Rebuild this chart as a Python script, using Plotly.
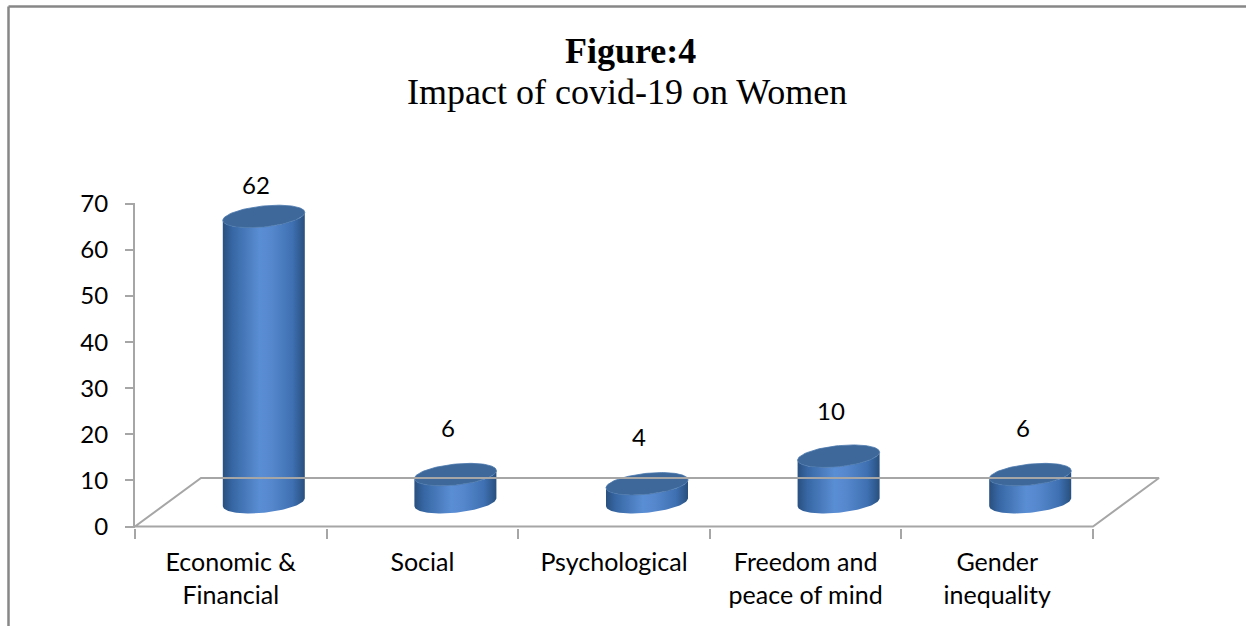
import numpy as np
import plotly.graph_objects as go

# ---------------- data ----------------
categories = ["Economic &<br>Financial", "Social", "Psychological",
              "Freedom and<br>peace of mind", "Gender<br>inequality"]
values = [62, 6, 4, 10, 6]
y_ticks = [0, 10, 20, 30, 40, 50, 60, 70]
title_line1 = "Figure:4"
title_line2 = "Impact of covid-19 on Women"

# ---------------- calibration ----------------
W, H = 1246, 626
ML, MR, MT, MB = 135, 0, 203, 98
PX_X = 191.6      # pixels per category
PX_Y = 4.61       # pixels per value unit
Y0_PX = 526.5     # pixel row of value 0
x_range = [0, (W - ML - MR) / PX_X]
y_range = [-((H - MB) - Y0_PX) / PX_Y, (Y0_PX - MT) / PX_Y]

# 3D depth offsets (in axis units)
DX = 66 / PX_X
DY = 48.5 / PX_Y
RX = 41 / PX_X
RY = 10.5 / PX_Y
K = 4.0 / PX_Y

def px_to_paper_x(px):
    return (px - ML) / (W - ML - MR)

def px_to_paper_y(py):
    return ((H - MB) - py) / (H - MT - MB)

n = len(categories)
fig = go.Figure()

# floor (parallelogram)
fx = [0, n, n + DX, DX, 0]
fy = [0, 0, DY, DY, 0]
fig.add_trace(go.Scatter(x=fx, y=fy, mode="lines", xaxis="x2",
                         line=dict(color="#A6A6A6", width=2),
                         hoverinfo="skip", showlegend=False))

t = np.linspace(0, 2 * np.pi, 121)
body_scale = [[0.0, "#29507F"], [0.12, "#3767A4"], [0.45, "#5A8ED4"],
              [0.6, "#5587CD"], [0.85, "#3E70B2"], [1.0, "#28507E"]]

for i, v in enumerate(values):
    cx = i + 0.5 + DX / 2
    yb = DY / 2
    yt = yb + v
    # front half of bottom ellipse (left -> right)
    tb = np.linspace(np.pi, 2 * np.pi, 61)
    bx = cx + RX * np.cos(tb)
    by = yb + RY * np.sin(tb) + K * np.cos(tb)
    # front half of top ellipse (right -> left)
    tt = np.linspace(2 * np.pi, np.pi, 61)
    tx = cx + RX * np.cos(tt)
    ty = yt + RY * np.sin(tt) + K * np.cos(tt)
    bodyx = np.concatenate([bx, tx, bx[:1]])
    bodyy = np.concatenate([by, ty, by[:1]])
    fig.add_trace(go.Scatter(
        x=bodyx, y=bodyy, mode="lines", fill="toself",
        line=dict(width=0, color="rgba(0,0,0,0)"),
        fillgradient=dict(type="horizontal", colorscale=body_scale),
        hoverinfo="skip", showlegend=False))
    # top ellipse
    ex = cx + RX * np.cos(t)
    ey = yt + RY * np.sin(t) + K * np.cos(t)
    fig.add_trace(go.Scatter(
        x=ex, y=ey, mode="lines", fill="toself", fillcolor="#3D6899",
        line=dict(width=0.8, color="#4A77AD"),
        hoverinfo="skip", showlegend=False))
    # value label: anchored at the cylinder top, shifted up in pixels
    label_y = 15.8 + 0.94 * v
    fig.add_annotation(x=cx - 0.04, y=yt, text=str(v),
                       yshift=(label_y - yt) * PX_Y,
                       showarrow=False, xanchor="center", yanchor="middle",
                       font=dict(family="Lato", size=24, color="black"))

# titles
fig.add_annotation(x=px_to_paper_x(630), y=px_to_paper_y(51), xref="paper", yref="paper",
                   text="<b>" + title_line1 + "</b>", showarrow=False,
                   xanchor="center", yanchor="middle",
                   font=dict(family="Liberation Serif", size=36, color="black"))
fig.add_annotation(x=px_to_paper_x(627), y=px_to_paper_y(92), xref="paper", yref="paper",
                   text=title_line2, showarrow=False,
                   xanchor="center", yanchor="middle",
                   font=dict(family="Liberation Serif", size=36, color="black"))

# frame border (top and left)
fx0 = px_to_paper_x(8.5)
fy0 = px_to_paper_y(6.5)
fig.add_shape(type="line", xref="paper", yref="paper", x0=fx0, y0=fy0,
              x1=px_to_paper_x(W + 20), y1=fy0, line=dict(color="#878787", width=2.5))
fig.add_shape(type="line", xref="paper", yref="paper", x0=fx0, y0=fy0,
              x1=fx0, y1=px_to_paper_y(H + 20), line=dict(color="#878787", width=2.5))

fig.update_layout(
    width=W, height=H,
    margin=dict(l=ML, r=MR, t=MT, b=MB, pad=0),
    paper_bgcolor="white", plot_bgcolor="white",
    showlegend=False,
    xaxis=dict(range=x_range, showgrid=False, zeroline=False, showline=False,
               tickmode="array", tickvals=list(range(n + 1)),
               ticktext=[""] * (n + 1), ticks="outside", ticklen=10,
               tickwidth=2, tickcolor="#A6A6A6", fixedrange=True),
    xaxis2=dict(range=x_range, overlaying="x", anchor="y", side="bottom",
                matches="x", showgrid=False, zeroline=False, showline=False,
                tickmode="array", tickvals=[i + 0.5 for i in range(n)],
                ticktext=categories, ticks="outside", ticklen=12,
                tickcolor="rgba(0,0,0,0)",
                tickfont=dict(family="Lato", size=25, color="black")),
    yaxis=dict(range=y_range, showgrid=False, zeroline=False,
               showline=True, linecolor="#A6A6A6", linewidth=2,
               tickmode="array", tickvals=y_ticks, ticks="outside",
               ticklen=8, tickwidth=2, tickcolor="#A6A6A6",
               ticklabelstandoff=12,
               tickfont=dict(family="Lato", size=24, color="black")),
)

fig.write_html("out.html")
